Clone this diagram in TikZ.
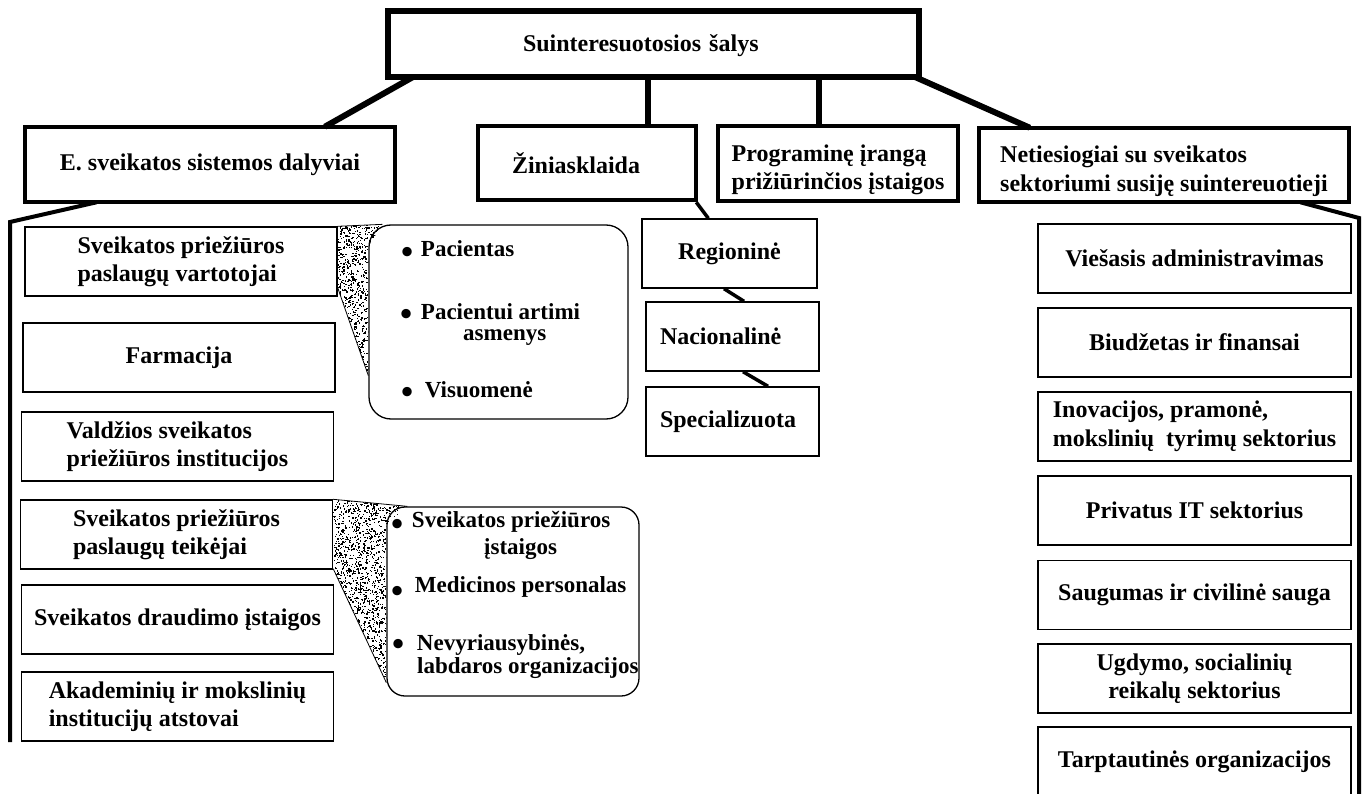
\documentclass[tikz,border=0pt]{standalone}
\usepackage{fontspec}
\setmainfont{Liberation Serif}
\newcommand\bigfont{\fontsize{24}{28.5}\selectfont\bfseries}
\newcommand\listfont{\fontsize{23}{24}\selectfont\bfseries}
% bullet glyph: vertical raise, gap before the text
\newcommand\bul[2]{\raisebox{#1}{\scalebox{1.5}{\textbullet}}\hspace{#2}}
% taller first line, so that a two-line text sits lower in its box
\newcommand\lowfirst{\rule{0pt}{29pt}}
\tikzset{
  topbox/.style={draw, line width=6pt, inner sep=0pt, font=\bigfont},
  mainbox/.style={draw, line width=4.5pt, inner sep=0pt, font=\bigfont},
  leafbox/.style={draw, line width=1.4pt, inner sep=0pt, font=\bigfont,
                  minimum width=312pt, minimum height=69pt},
  groupbox/.style={draw, line width=1.3pt, inner sep=0pt},
  item/.style={anchor=base west, inner sep=0pt, font=\listfont},
  link/.style={line width=6pt},
  spine/.style={line width=4pt},
  stub/.style={line width=3.5pt},
  edge/.style={line width=0.8pt}
}
\begin{document}
\begin{tikzpicture}[x=1pt, y=-1pt]
\useasboundingbox (0,0) rectangle (1367,794);

% root and first level
\node[topbox, minimum width=531pt, minimum height=66pt, text width=261pt, align=left,
      text height=21pt, text depth=5pt] (top) at (653.5,44) {Suinteresuotosios šalys};
\node[mainbox, minimum width=370pt, minimum height=75pt] (ehs) at (210,164.5) {E. sveikatos sistemos dalyviai};
\node[mainbox, minimum width=218pt, minimum height=74pt, text width=150pt, align=left] (media) at (587,163) {Žiniasklaida};
\node[mainbox, minimum width=240pt, minimum height=75pt, align=left] (prog) at (838,163.5) {\lowfirst Programinę įrangą\\prižiūrinčios įstaigos};
\node[mainbox, minimum width=370pt, minimum height=74pt, align=left] (net) at (1164,165) {\lowfirst Netiesiogiai su sveikatos\\sektoriumi susiję suintereuotieji};

\draw[link] ([xshift=28pt,yshift=3pt]top.south west) -- ([xshift=302pt,yshift=-2pt]ehs.north west);
\draw[link] ([xshift=-5.5pt,yshift=3pt]top.south) -- ([xshift=61pt,yshift=-2pt]media.north);
\draw[link] ([xshift=165.5pt,yshift=3pt]top.south) -- ([xshift=-19pt,yshift=-2pt]prog.north);
\draw[link] ([xshift=-7pt,yshift=3pt]top.south east) -- ([xshift=53pt,yshift=-2pt]net.north west);

% participants of the e-health system
\node[leafbox, align=left] (vart) at (181,261.5) {Sveikatos priežiūros\\paslaugų vartotojai};
\node[leafbox] (farm) at (179,357.5) {Farmacija};
\node[leafbox, align=left] (vald) at (177.5,446.5) {Valdžios sveikatos\\priežiūros institucijos};
\node[leafbox, align=left] (teik) at (176.5,534.5) {Sveikatos priežiūros\\paslaugų teikėjai};
\node[leafbox] (draud) at (177.5,619.5) {Sveikatos draudimo įstaigos};
\node[leafbox, align=left] (akad) at (177.5,706.5) {Akademinių ir mokslinių\\institucijų atstovai};

\coordinate (lc) at (10,222);
\coordinate (le) at (10,742);
\draw[spine] ([xshift=74pt,yshift=2pt]ehs.south west) -- (lc) -- (le);

% group boxes with their stippled callouts
\node[groupbox, rounded corners=22pt, minimum width=259pt, minimum height=194pt] (grp1) at (498.5,322) {};
\node[groupbox, rounded corners=18pt, minimum width=252pt, minimum height=189pt] (grp2) at (513,601.5) {};

\pgfmathsetseed{7}
\begin{scope}
  \clip (vart.north east) -- ([xshift=14pt]grp1.north west) -- ([yshift=-22pt]grp1.north west)
        -- ([yshift=44pt]grp1.south west) -- ([yshift=9pt]vart.south east) -- cycle;
  \foreach \i in {1,...,1100}
    \fill ({337+46*rnd},{225+150*rnd}) rectangle ++(1.3,1.3);
\end{scope}
\draw[edge] (vart.north east) -- ([xshift=14pt]grp1.north west);
\draw[edge] ([yshift=9pt]vart.south east) -- ([yshift=44pt]grp1.south west);

\begin{scope}
  \clip (teik.north east) -- ([xshift=21pt]grp2.north west) -- ([yshift=-18pt]grp2.north west)
        -- ([yshift=14pt]grp2.south west) -- ([yshift=1pt]teik.south east) -- cycle;
  \foreach \i in {1,...,2200}
    \fill ({333+75*rnd},{500+182*rnd}) rectangle ++(1.3,1.3);
\end{scope}
\draw[edge] (teik.north east) -- ([xshift=21pt]grp2.north west);
\draw[edge] ([yshift=1pt]teik.south east) -- ([yshift=14pt]grp2.south west);

\node[item] (p1) at (400.85,257) {\bul{-6.5pt}{7.85pt}Pacientas};
\node[item] (p2) at (399.85,319) {\bul{-6.5pt}{8.85pt}Pacientui artimi};
\node[item] (p2b) at (463,340) {asmenys};
\node[item] (p3) at (400.85,397) {\bul{-6.5pt}{11.85pt}Visuomenė};

\node[item] (s1) at (390.85,527) {\bul{-8.5pt}{8.85pt}Sveikatos priežiūros};
\node[item] (s1b) at (484,554) {įstaigos};
\node[item] (s2) at (390.85,592) {\bul{-10.5pt}{11.85pt}Medicinos personalas};
\node[item] (s3) at (391.85,650) {\bul{-5.5pt}{12.85pt}Nevyriausybinės,};
\node[item] (s3b) at (417,673) {labdaros organizacijos};

% media
\node[leafbox, minimum width=175pt] (reg) at (729.5,253.5) {Regioninė};
\node[leafbox, minimum width=173pt, text width=145pt, align=left] (nac) at (732.5,336.5) {Nacionalinė};
\node[leafbox, minimum width=173pt, text width=145pt, align=left] (spec) at (732.5,421.5) {Specializuota};
\draw[stub] ([xshift=-2pt]media.south east) -- ([xshift=67pt]reg.north west);
\draw[stub] ([xshift=-5.5pt]reg.south) -- ([xshift=11.5pt]nac.north);
\draw[stub] ([xshift=10.5pt]nac.south) -- ([xshift=35.5pt]spec.north);

% indirectly related stakeholders
\node[leafbox, minimum width=313pt] (r1) at (1194.5,258.5) {Viešasis administravimas};
\node[leafbox, minimum width=313pt] (r2) at (1194.5,342.5) {Biudžetas ir finansai};
\node[leafbox, minimum width=313pt, align=left] (r3) at (1194.5,426.5) {Inovacijos, pramonė,\\mokslinių~ tyrimų sektorius};
\node[leafbox, minimum width=313pt] (r4) at (1194.5,510.5) {Privatus IT sektorius};
\node[leafbox, minimum width=313pt] (r5) at (1194.5,595) {Saugumas ir civilinė sauga};
\node[leafbox, minimum width=313pt, align=center] (r6) at (1194.5,678.5) {Ugdymo, socialinių\\reikalų sektorius};
\node[leafbox, minimum width=313pt] (r7) at (1194.5,761.5) {Tarptautinės organizacijos};

\coordinate (rc) at (1359,218);
\coordinate (re) at (1359,800);
\draw[spine] ([xshift=-51pt,yshift=2pt]net.south east) -- (rc) -- (re);
\end{tikzpicture}
\end{document}
